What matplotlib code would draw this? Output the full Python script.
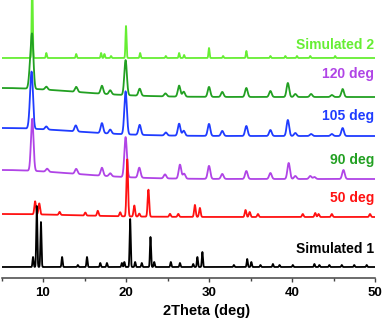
import numpy as np
import matplotlib
matplotlib.use('Agg')
import matplotlib.pyplot as plt
from matplotlib.ticker import MultipleLocator

plt.rcParams['font.family'] = ['Liberation Sans', 'DejaVu Sans']
plt.rcParams['font.weight'] = 'bold'

# peak lists: (2theta, height), heights in pixel-ish units
sim2_peaks = [(8.7, 80), (10.4, 5), (14.0, 4), (17.0, 5), (17.4, 4), (18.2, 2), (20.0, 32),
              (21.7, 5), (24.8, 2), (26.4, 5), (27.0, 3), (30.0, 10), (31.7, 2), (34.5, 7),
              (37.4, 2), (39.2, 2), (40.6, 2), (42.2, 2), (45.2, 2)]
deg120_peaks = [(8.45, 18), (8.7, 50), (10.4, 3), (14.0, 5), (17.1, 8), (18.1, 4), (19.95, 35),
                (21.65, 7), (24.75, 3), (26.4, 11), (26.95, 5), (30.0, 10), (31.6, 5), (34.5, 9),
                (37.4, 6), (39.5, 14), (40.4, 3), (42.3, 3), (44.8, 2), (46.1, 8)]
deg105_peaks = [(8.45, 15), (8.65, 50), (10.4, 3), (13.95, 6), (17.1, 10), (18.1, 4), (19.95, 43),
                (21.65, 10), (24.8, 3), (26.4, 12), (26.95, 5), (30.0, 12), (31.6, 5), (34.5, 10),
                (37.4, 6), (39.5, 16), (40.4, 3), (42.3, 2), (44.8, 2), (46.1, 8)]
deg90_peaks = [(8.7, 52), (10.5, 3), (14.0, 5), (17.1, 8), (18.1, 3), (19.95, 40), (21.6, 10),
               (24.7, 4), (26.5, 14), (27.0, 5), (30.0, 13), (31.6, 5), (34.5, 8), (37.4, 6),
               (39.6, 16), (40.4, 3), (42.2, 3), (42.7, 2), (46.2, 9)]
deg50_peaks = [(9.05, 13), (9.55, 11), (12.0, 3), (15.1, 3), (16.6, 5), (19.3, 4), (20.15, 57),
               (21.0, 11), (21.6, 3), (22.7, 27), (25.3, 3), (26.3, 3), (28.3, 12), (28.9, 9),
               (34.4, 7), (34.9, 5), (35.9, 3), (41.3, 3), (42.8, 4), (43.2, 3), (44.8, 3), (49.4, 3)]
sim1_peaks = [(8.8, 10), (9.25, 61), (9.75, 45), (12.3, 10), (14.2, 2), (15.3, 10), (16.9, 4),
              (17.7, 4), (19.5, 4), (19.8, 5), (20.5, 48), (21.1, 5), (21.9, 4), (22.95, 30),
              (23.4, 5), (25.4, 5), (26.5, 4), (28.1, 3), (28.6, 10), (29.2, 15), (33.0, 2),
              (34.6, 8), (35.1, 5), (36.2, 2), (37.7, 3), (38.5, 2), (40.1, 2), (42.7, 3),
              (43.3, 2), (44.5, 2), (46.0, 2), (47.5, 2), (49.0, 2)]

# name, peaks, offset, amorphous hump height, peak fwhm, line colour, label colour
traces = [
    ('Simulated 2', sim2_peaks, 220, 0, 0.15, '#66ee33', '#66ee33'),
    ('120 deg', deg120_peaks, 181, 9, 0.36, '#22a022', '#b044e6'),
    ('105 deg', deg105_peaks, 142, 8, 0.36, '#1f3cff', '#1f3cff'),
    ('90 deg', deg90_peaks, 99, 9, 0.36, '#b044e6', '#22a022'),
    ('50 deg', deg50_peaks, 61, 3, 0.22, '#ff1111', '#ff1111'),
    ('Simulated 1', sim1_peaks, 11, 0, 0.15, '#000000', '#000000'),
]
label_y = [233, 204, 162, 118, 80, 29]


def profile(x, peaks, fwhm):
    y = np.zeros_like(x)
    for pos, h in peaks:
        y += h * np.exp(-4 * np.log(2) * ((x - pos) / fwhm) ** 2)
    return y


fig = plt.figure(figsize=(3.85, 3.21), dpi=100)
ax = fig.add_axes([1.5 / 385, 43 / 321, 373.5 / 385, 278 / 321])

x = np.linspace(5, 50, 4501)
for (name, peaks, off, hump, fwhm, lc, tc), ly in zip(traces, label_y):
    y = off + profile(x, peaks, fwhm) + profile(x, [(5.0, hump)], 20.0)
    ax.plot(x, y, color=lc, lw=1.3)
    ax.text(49.9, ly, name, color=tc, fontsize=10, fontweight='bold', ha='right', va='center')

ax.set_xlim(5, 50)
ax.set_ylim(0, 278)
for s in ['left', 'right', 'top']:
    ax.spines[s].set_visible(False)
ax.spines['bottom'].set_color('#444444')
ax.spines['bottom'].set_linewidth(1.1)
ax.set_yticks([])
ax.xaxis.set_major_locator(MultipleLocator(10))
ax.xaxis.set_minor_locator(MultipleLocator(5))
ax.tick_params(axis='x', which='major', length=3.2, width=1, color='#444444', labelsize=9.5, pad=3)
ax.tick_params(axis='x', which='minor', length=2, width=1, color='#444444')
for lab in ax.get_xticklabels():
    lab.set_fontweight('bold')

fig.text(207 / 385, 1 - 311 / 321, '2Theta (deg)', fontsize=10.5, fontweight='bold',
         ha='center', va='center')

fig.savefig('out.png', dpi=100)
